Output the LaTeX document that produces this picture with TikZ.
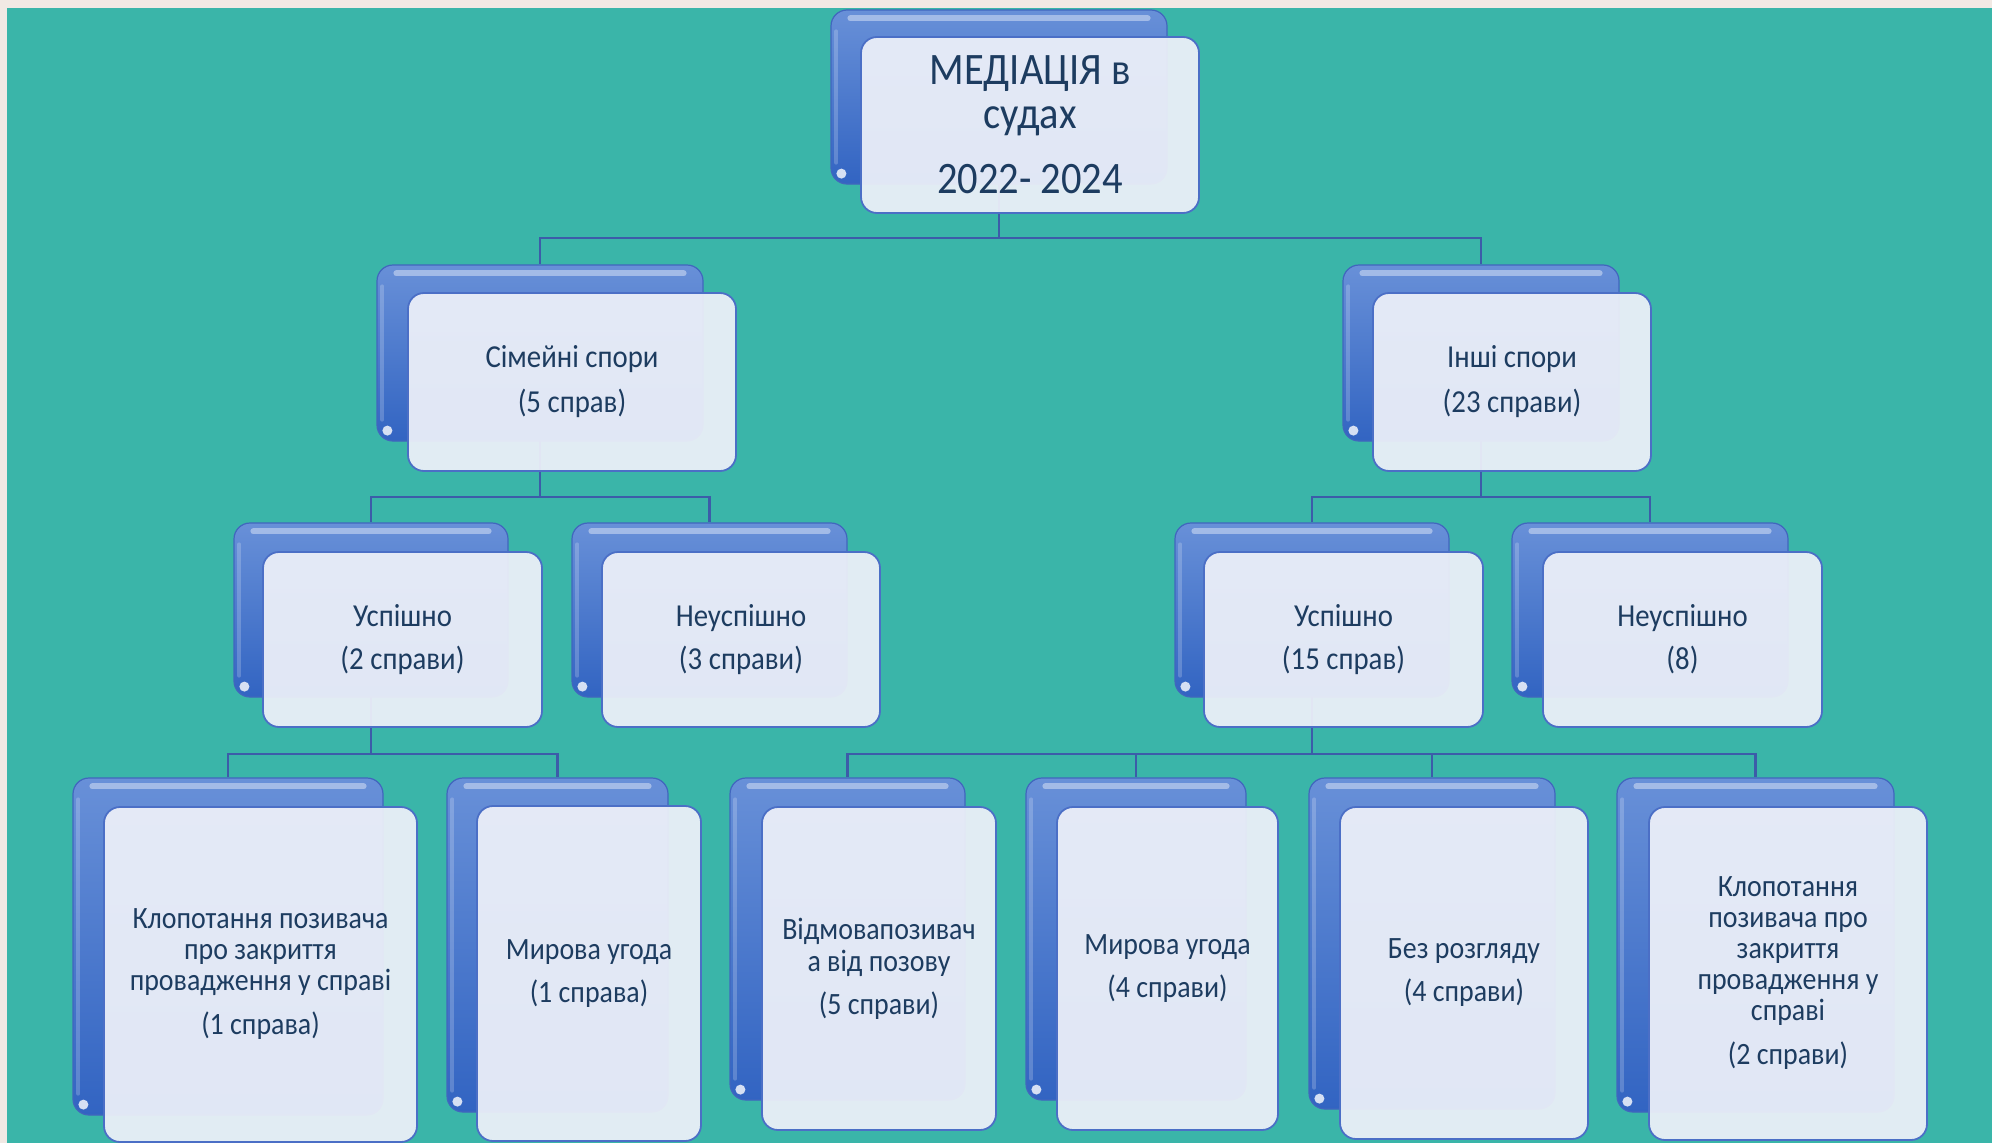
\documentclass[tikz,border=0pt]{standalone}
\usepackage{fontspec}
\setmainfont{Carlito}[FakeStretch=0.9]
\usetikzlibrary{calc}
\definecolor{bgteal}{HTML}{3AB5A9}
\definecolor{beige}{HTML}{F1E9E4}
\definecolor{conncol}{HTML}{3C5CA9}
\definecolor{btop}{HTML}{6890D8}
\definecolor{bbot}{HTML}{3264C2}
\definecolor{bdraw}{HTML}{4166BE}
\definecolor{ffill}{HTML}{EEF1F9}
\definecolor{fdraw}{HTML}{4B6FC6}
\definecolor{txt}{HTML}{1D3C60}
\pgfdeclarelayer{bottom}
\pgfdeclarelayer{wires}
\pgfsetlayers{bottom,wires,main}
\tikzset{
  backst/.style={rectangle, rounded corners=16pt, top color=btop, bottom color=bbot, draw=bdraw, line width=1.2pt, inner sep=0pt},
  frontst/.style={rectangle, rounded corners=16pt, fill=ffill, fill opacity=0.93, text opacity=1, draw=fdraw, line width=1.8pt, inner sep=0pt, align=center, text=txt},
  wire/.style={draw=conncol, line width=2.8pt},
  hlite/.style={white, opacity=0.4, line width=6pt, line cap=round},
  sidehl/.style={white, opacity=0.2, line width=4pt, line cap=round},
  spot/.style={white, opacity=0.8},
}
\newcommand\mkback[5]{%
  \pgfmathsetmacro\cxx{(#2+#4)/2}\pgfmathsetmacro\cyy{(#3+#5)/2}%
  \pgfmathsetmacro\www{#4-#2}\pgfmathsetmacro\hhh{#5-#3}%
  \node[backst, minimum width=\www pt, minimum height=\hhh pt] (#1) at (\cxx,\cyy) {};
  \draw[hlite] ([xshift=20pt,yshift=-9pt]#1.north west) -- ([xshift=-20pt,yshift=-9pt]#1.north east);
  \draw[sidehl] ([xshift=6pt,yshift=-22pt]#1.north west) -- ([xshift=6pt,yshift=22pt]#1.south west);
  \fill[spot] ([xshift=11pt,yshift=11pt]#1.south west) circle (5pt);
}
\newcommand\mkfront[7]{%
  \pgfmathsetmacro\cxx{(#2+#4)/2}\pgfmathsetmacro\cyy{(#3+#5)/2}%
  \pgfmathsetmacro\www{#4-#2}\pgfmathsetmacro\hhh{#5-#3}%
  \node[frontst, minimum width=\www pt, minimum height=\hhh pt, font=#6] (#1) at (\cxx,\cyy) {#7};
}
\begin{document}
\begin{tikzpicture}[x=1pt,y=-1pt]
\useasboundingbox (0,0) rectangle (1992,1143);
\begin{pgfonlayer}{bottom}
  \fill[beige] (0,0) rectangle (1992,1143);
  \fill[bgteal] (7,8) rectangle (1992,1143);
\end{pgfonlayer}

% back boxes
\mkback{topb}{831}{10}{1167}{184}
\mkback{simb}{377}{265}{703}{441}
\mkback{insb}{1343}{265}{1619}{441}
\mkback{uspab}{234}{523}{508}{697}
\mkback{neuab}{572}{523}{847}{697}
\mkback{uspbb}{1175}{523}{1449}{697}
\mkback{neubb}{1512}{523}{1788}{697}
\mkback{lfab}{73}{778}{383}{1115}
\mkback{lfbb}{447}{778}{668}{1112}
\mkback{lfcb}{730}{778}{965}{1100}
\mkback{lfdb}{1026}{778}{1246}{1100}
\mkback{lfeb}{1309}{778}{1555}{1109}
\mkback{lffb}{1617}{778}{1894}{1112}

% front boxes
\mkfront{top}{861}{37}{1199}{213}{\fontsize{45}{44}\selectfont}{МЕДІАЦІЯ в\\судах\\[21pt]2022- 2024}
\mkfront{sim}{408}{293}{736}{471}{\fontsize{32}{45}\selectfont}{Сімейні спори\\(5 справ)}
\mkfront{ins}{1373}{293}{1651}{471}{\fontsize{32}{45}\selectfont}{Інші спори\\(23 справи)}
\mkfront{uspa}{263}{552}{542}{727}{\fontsize{32}{43}\selectfont}{Успішно\\(2 справи)}
\mkfront{neua}{602}{552}{880}{727}{\fontsize{32}{43}\selectfont}{Неуспішно\\(3 справи)}
\mkfront{uspb}{1204}{552}{1483}{727}{\fontsize{32}{43}\selectfont}{Успішно\\(15 справ)}
\mkfront{neub}{1543}{552}{1822}{727}{\fontsize{32}{43}\selectfont}{Неуспішно\\(8)}
\mkfront{lfa}{104}{807}{417}{1142}{\fontsize{31}{31}\selectfont}{Клопотання позивача\\про закриття\\провадження у справі\\[13pt](1 справа)}
\mkfront{lfb}{477}{806}{701}{1141}{\fontsize{31}{31}\selectfont}{Мирова угода\\[12pt](1 справа)}
\mkfront{lfc}{762}{807}{996}{1130}{\fontsize{31}{32}\selectfont}{Відмовапозивач\\а від позову\\[11pt](5 справи)}
\mkfront{lfd}{1057}{807}{1278}{1130}{\fontsize{31}{31}\selectfont}{Мирова угода\\[12pt](4 справи)}
\mkfront{lfe}{1340}{807}{1588}{1139}{\fontsize{31}{31}\selectfont}{Без розгляду\\[12pt](4 справи)}
\mkfront{lff}{1649}{807}{1927}{1140}{\fontsize{31}{31}\selectfont}{Клопотання\\позивача про\\закриття\\провадження у\\справі\\[13pt](2 справи)}

% connectors
\coordinate (busa) at (0,238);
\coordinate (busb) at (0,497);
\coordinate (busc) at (0,754);
\begin{pgfonlayer}{wires}
  \foreach \c in {simb,insb}
    \draw[wire] (topb.center) -- (topb.center |- busa) -| (\c.north);
  \foreach \c in {uspab,neuab}
    \draw[wire] (simb.center) -- (simb.center |- busb) -| (\c.north);
  \foreach \c in {uspbb,neubb}
    \draw[wire] (insb.center) -- (insb.center |- busb) -| (\c.north);
  \foreach \c in {lfab,lfbb}
    \draw[wire] (uspab.center) -- (uspab.center |- busc) -| (\c.north);
  \foreach \c in {lfcb,lfdb,lfeb,lffb}
    \draw[wire] (uspbb.center) -- (uspbb.center |- busc) -| (\c.north);
\end{pgfonlayer}
\end{tikzpicture}
\end{document}
